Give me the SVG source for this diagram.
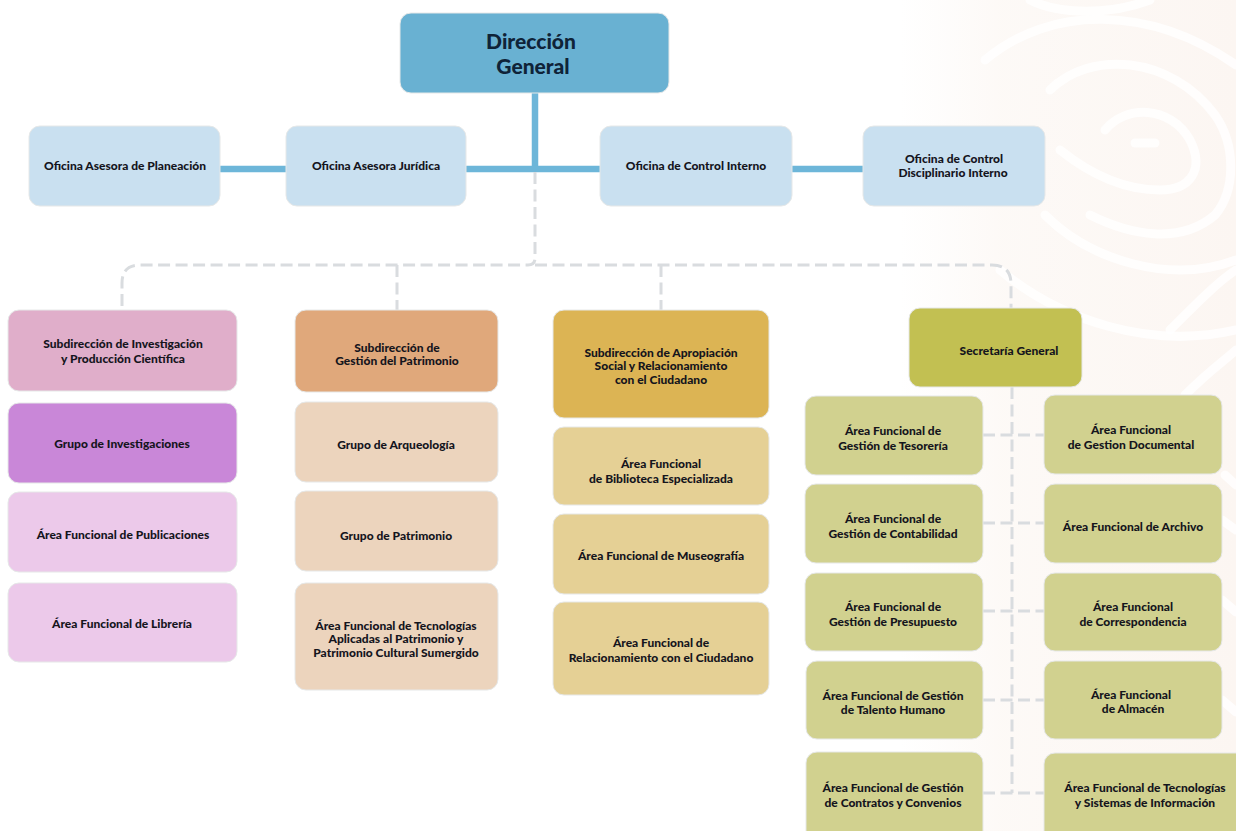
<svg xmlns="http://www.w3.org/2000/svg" width="1236" height="831" viewBox="0 0 1236 831">
<defs>
<linearGradient id="wmf" x1="0" x2="1" y1="0" y2="0"><stop offset="0" stop-color="#fcf7f3" stop-opacity="0"/><stop offset=".3" stop-color="#fcf7f3" stop-opacity=".7"/><stop offset="1" stop-color="#fcf6f2"/></linearGradient>
</defs>
<style>
text{font-family:"Lato","Liberation Sans",sans-serif;font-weight:900;font-size:12px;fill:#15151d;text-anchor:middle;transform:translateY(.8px)}
.n{stroke:#e6e8e8;stroke-width:1}
.wm{fill:none;stroke:#fff;stroke-width:9;stroke-linecap:round;opacity:.8}
.solid{fill:none;stroke:#6db6d9;stroke-width:6.5}
.dash{fill:none;stroke:#d9dcdf;stroke-width:3;stroke-dasharray:12 5.5}
.b{fill:#c9e0f0}.o{fill:#d1d18f}.m{fill:#e5d095}.p{fill:#ecd4bd}.l{fill:#ecc9ea}
</style>
<rect width="1236" height="831" fill="#fff"/>
<g id="watermark">
<rect x="900" y="0" width="336" height="831" fill="url(#wmf)"/>
<path class="wm" d="M1135 143H1155"/>
<path class="wm" d="M1105 130C1125 105 1170 105 1190 140C1205 170 1190 190 1160 190C1120 190 1085 170 1060 150"/>
<path class="wm" d="M1050 90C1090 50 1170 55 1215 115C1236 145 1236 190 1215 215C1180 245 1130 235 1090 215"/>
<path class="wm" d="M985 60C1050 5 1150 5 1236 65"/>
<path class="wm" d="M1045 215C1090 260 1170 285 1236 260"/>
<path class="wm" d="M1030 0C1060 15 1110 15 1150 0"/>
<path class="wm" d="M1000 270C1060 320 1150 350 1236 330"/>
<path class="wm" d="M1170 330C1200 300 1220 280 1236 270"/>
<path class="wm" d="M1185 395C1210 370 1225 360 1236 350"/>
<path class="wm" d="M1225 475L1236 485M1222 600L1236 612M1222 700L1236 712M1222 520L1236 530"/>
</g>
<g id="connectors">
<path class="solid" d="M535 93V169"/>
<path class="solid" d="M220 169H286M466 169H600M792 169H863"/>
<path class="dash" d="M535 172V258Q535 265 528 265H140Q122 265 122 283V310"/>
<path class="dash" d="M535 265H992Q1011 265 1011 284V308"/>
<path class="dash" d="M397 265V310M661 265V310"/>
<path class="dash" d="M1012 387V793"/>
<path class="dash" d="M983 435H1044M983 523H1044M983 611H1044M983 700H1044M983 793H1044"/>
</g>
<g id="n-dg"><rect class="n" x="400" y="13" width="269" height="80" rx="11" fill="#69b1d2"/><text x="531" y="48" style="font-size:21px;fill:#0f2338">Dirección</text><text x="533" y="73" style="font-size:21px;fill:#0f2338">General</text></g>
<g id="n-of1"><rect class="n b" x="29" y="126" width="191" height="80" rx="11"/><text x="125" y="169">Oficina Asesora de Planeación</text></g>
<g id="n-of2"><rect class="n b" x="286" y="126" width="180" height="80" rx="11"/><text x="376" y="169">Oficina Asesora Jurídica</text></g>
<g id="n-of3"><rect class="n b" x="600" y="126" width="192" height="80" rx="11"/><text x="696" y="169">Oficina de Control Interno</text></g>
<g id="n-of4"><rect class="n b" x="863" y="126" width="182" height="80" rx="11"/><text x="954" y="162">Oficina de Control</text><text x="953" y="176">Disciplinario Interno</text></g>

<g id="n-s1"><rect class="n" x="8" y="310" width="229" height="81" rx="11" fill="#e0aeca"/><text x="123" y="347">Subdirección de Investigación</text><text x="123" y="362">y Producción Científica</text></g>
<g id="n-s1a"><rect class="n" x="8" y="403" width="229" height="80" rx="11" fill="#c987d8"/><text x="122" y="447">Grupo de Investigaciones</text></g>
<g id="n-s1b"><rect class="n l" x="8" y="492" width="229" height="80" rx="11"/><text x="123" y="538">Área Funcional de Publicaciones</text></g>
<g id="n-s1c"><rect class="n l" x="8" y="583" width="229" height="79" rx="11"/><text x="122" y="627">Área Funcional de Librería</text></g>

<g id="n-s2"><rect class="n" x="295" y="310" width="203" height="82" rx="11" fill="#e0a87b"/><text x="397" y="351">Subdirección de</text><text x="397" y="364">Gestión del Patrimonio</text></g>
<g id="n-s2a"><rect class="n p" x="295" y="402" width="203" height="80" rx="11"/><text x="396" y="448">Grupo de Arqueología</text></g>
<g id="n-s2b"><rect class="n p" x="295" y="491" width="203" height="80" rx="11"/><text x="396" y="539">Grupo de Patrimonio</text></g>
<g id="n-s2c"><rect class="n p" x="295" y="583" width="203" height="107" rx="11"/><text x="396" y="629">Área Funcional de Tecnologías</text><text x="396" y="642">Aplicadas al Patrimonio y</text><text x="396" y="656">Patrimonio Cultural Sumergido</text></g>

<g id="n-s3"><rect class="n" x="553" y="310" width="216" height="108" rx="11" fill="#dcb454"/><text x="661" y="356">Subdirección de Apropiación</text><text x="661" y="369">Social y Relacionamiento</text><text x="661" y="383">con el Ciudadano</text></g>
<g id="n-s3a"><rect class="n m" x="553" y="427" width="216" height="78" rx="11"/><text x="661" y="467">Área Funcional</text><text x="661" y="482">de Biblioteca Especializada</text></g>
<g id="n-s3b"><rect class="n m" x="553" y="514" width="216" height="80" rx="11"/><text x="661" y="559">Área Funcional de Museografía</text></g>
<g id="n-s3c"><rect class="n m" x="553" y="602" width="216" height="93" rx="11"/><text x="661" y="646">Área Funcional de</text><text x="661" y="661">Relacionamiento con el Ciudadano</text></g>

<g id="n-sg"><rect class="n" x="909" y="308" width="173" height="79" rx="11" fill="#c2c052"/><text x="1009" y="354">Secretaría General</text></g>

<g id="n-l1"><rect class="n o" x="805" y="396" width="178" height="79" rx="11"/><text x="893" y="434">Área Funcional de</text><text x="893" y="449">Gestión de Tesorería</text></g>
<g id="n-l2"><rect class="n o" x="805" y="484" width="178" height="79" rx="11"/><text x="893" y="522">Área Funcional de</text><text x="893" y="537">Gestión de Contabilidad</text></g>
<g id="n-l3"><rect class="n o" x="805" y="573" width="178" height="78" rx="11"/><text x="893" y="610">Área Funcional de</text><text x="893" y="625">Gestión de Presupuesto</text></g>
<g id="n-l4"><rect class="n o" x="806" y="661" width="177" height="78" rx="11"/><text x="893" y="699">Área Funcional de Gestión</text><text x="893" y="713">de Talento Humano</text></g>
<g id="n-l5"><rect class="n o" x="806" y="752" width="177" height="90" rx="11"/><text x="893" y="791">Área Funcional de Gestión</text><text x="893" y="806">de Contratos y Convenios</text></g>

<g id="n-r1"><rect class="n o" x="1044" y="395" width="178" height="79" rx="11"/><text x="1131" y="433">Área Funcional</text><text x="1131" y="448">de Gestion Documental</text></g>
<g id="n-r2"><rect class="n o" x="1044" y="484" width="178" height="79" rx="11"/><text x="1133" y="530">Área Funcional de Archivo</text></g>
<g id="n-r3"><rect class="n o" x="1044" y="573" width="178" height="78" rx="11"/><text x="1133" y="610">Área Funcional</text><text x="1133" y="625">de Correspondencia</text></g>
<g id="n-r4"><rect class="n o" x="1044" y="661" width="178" height="78" rx="11"/><text x="1131" y="698">Área Funcional</text><text x="1133" y="712">de Almacén</text></g>
<g id="n-r5"><rect class="n o" x="1044" y="753" width="210" height="90" rx="11"/><text x="1145" y="791">Área Funcional de Tecnologías</text><text x="1145" y="806">y Sistemas de Información</text></g>
</svg>
